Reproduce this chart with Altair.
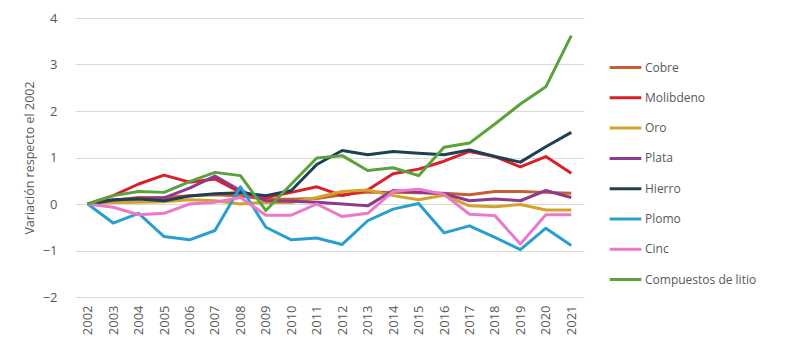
import altair as alt
import pandas as pd

years = [str(y) for y in range(2002, 2022)]
series_names = ["Cobre", "Molibdeno", "Oro", "Plata", "Hierro", "Plomo", "Cinc", "Compuestos de litio"]
colors = ["#c65f31", "#dc1f26", "#d4a22b", "#8c3b8c", "#1f3f55", "#2a9fcf", "#ec78c8", "#5aa33c"]

cobre = [0, 0.08, 0.14, 0.14, 0.18, 0.20, 0.17, 0.10, 0.10, 0.12, 0.20, 0.26, 0.25, 0.24, 0.23, 0.20, 0.27, 0.27, 0.25, 0.23]
molibdeno = [0, 0.18, 0.43, 0.62, 0.47, 0.54, 0.25, 0.14, 0.25, 0.37, 0.18, 0.30, 0.65, 0.75, 0.92, 1.13, 1.02, 0.80, 1.02, 0.66]
oro = [0, 0.03, 0.04, 0.05, 0.09, 0.07, 0.00, 0.04, 0.03, 0.14, 0.27, 0.30, 0.18, 0.09, 0.19, -0.04, -0.06, -0.01, -0.13, -0.13]
plata = [0, 0.08, 0.12, 0.13, 0.34, 0.60, 0.29, 0.07, 0.06, 0.04, 0.00, -0.04, 0.29, 0.25, 0.22, 0.07, 0.11, 0.07, 0.29, 0.14]
hierro = [0, 0.09, 0.11, 0.07, 0.17, 0.22, 0.24, 0.18, 0.29, 0.85, 1.15, 1.06, 1.13, 1.09, 1.06, 1.16, 1.02, 0.90, 1.23, 1.54]
plomo = [0, -0.41, -0.20, -0.70, -0.77, -0.57, 0.37, -0.50, -0.77, -0.73, -0.87, -0.36, -0.11, 0.01, -0.62, -0.47, -0.72, -0.98, -0.52, -0.89]
cinc = [0, -0.07, -0.23, -0.20, 0.00, 0.04, 0.14, -0.24, -0.24, 0.00, -0.27, -0.20, 0.27, 0.32, 0.21, -0.22, -0.25, -0.86, -0.23, -0.23]
litio = [0, 0.18, 0.27, 0.25, 0.48, 0.68, 0.61, -0.14, 0.43, 0.99, 1.04, 0.72, 0.78, 0.61, 1.22, 1.31, 1.72, 2.15, 2.52, 3.62]

all_values = [cobre, molibdeno, oro, plata, hierro, plomo, cinc, litio]

rows = []
for k, (name, vals) in enumerate(zip(series_names, all_values)):
    for y, v in zip(years, vals):
        rows.append({"Año": y, "Serie": name, "Valor": v, "orden": k})
df = pd.DataFrame(rows)

FONT = "Open Sans"
GREY = "#595959"

chart = alt.Chart(df).mark_line(strokeWidth=3, strokeJoin="round").encode(
    x=alt.X("Año:O", sort=years,
            scale=alt.Scale(type="point", padding=0.5),
            axis=alt.Axis(title=None, labelAngle=-90, labelAlign="right", labelBaseline="middle",
                          ticks=False, domain=False, grid=False, labelPadding=8,
                          labelFontSize=13, labelColor=GREY, labelFont=FONT)),
    y=alt.Y("Valor:Q",
            scale=alt.Scale(domain=[-2, 4], nice=False),
            axis=alt.Axis(title="Variación respecto el 2002", values=[-2, -1, 0, 1, 2, 3, 4],
                          ticks=False, domain=False, grid=True, gridColor="#d9d9d9", gridWidth=1,
                          labelPadding=18, labelFontSize=13, labelColor=GREY, labelFont=FONT,
                          titleFontSize=12.5, titleFontWeight="normal", titleColor=GREY, titleFont=FONT,
                          titlePadding=6)),
    color=alt.Color("Serie:N",
                    scale=alt.Scale(domain=series_names, range=colors),
                    legend=alt.Legend(title=None, orient="none", legendX=533, legendY=32,
                                      symbolType="stroke", symbolSize=1000, symbolStrokeWidth=3,
                                      labelFontSize=12, labelColor=GREY, labelFont=FONT,
                                      labelOffset=2, rowPadding=6.3)),
    order=alt.Order("orden:Q"),
    detail="orden:Q",
).properties(
    width=509, height=279,
    padding={"left": 75, "top": 18, "right": 202, "bottom": 52},
    autosize="none",
).configure_view(stroke=None)

chart.save("out.html", embed_options={"renderer": "svg", "actions": False})
